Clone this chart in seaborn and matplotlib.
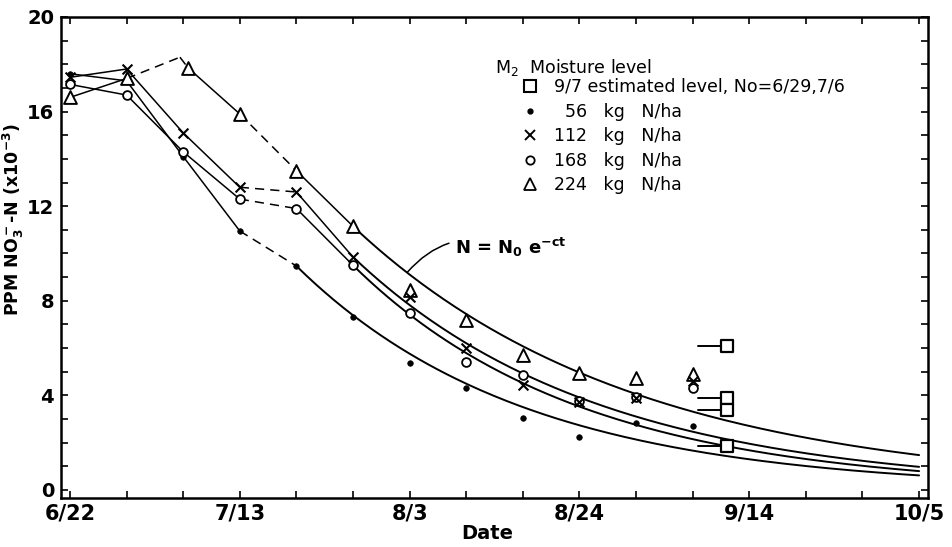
import numpy as np
import pandas as pd
import matplotlib
matplotlib.use("Agg")
import matplotlib.pyplot as plt
from matplotlib.lines import Line2D
import seaborn as sns

# ---------------- data (day 0 = 6/22) ----------------
tick_days = [0, 21, 42, 63, 84, 105]
tick_labels = ["6/22", "7/13", "8/3", "8/24", "9/14", "10/5"]

# connected early segments
days_56 = [0, 7, 14, 21, 28]
n_56 = [17.6, 17.3, 14.1, 10.95, 9.47]
style_56 = ["-", "-", "-", "--"]

days_112 = [0, 7, 14, 21, 28, 35]
n_112 = [17.45, 17.8, 15.1, 12.8, 12.6, 9.85]
style_112 = ["-", "-", "-", "--", "-"]

days_168 = [0, 7, 14, 21, 28, 35]
n_168 = [17.15, 16.7, 14.3, 12.3, 11.9, 9.5]
style_168 = ["-", "-", "-", "--", "-"]

path_days_224 = [0, 7, 13.6, 14.6, 21, 28, 35]
path_n_224 = [16.6, 17.4, 18.3, 17.85, 15.9, 13.5, 11.15]
style_224 = ["-", "--", "--", "-", "--", "-"]
mark_days_224 = [0, 7, 14.6, 21, 28, 35]
mark_n_224 = [16.6, 17.4, 17.85, 15.9, 13.5, 11.15]

# later (unconnected) observations
late_days_56 = [35, 42, 49, 56, 63, 70, 77]
late_56 = [7.32, 5.37, 4.31, 3.04, 2.24, 2.83, 2.71]
late_days = [42, 49, 56, 63, 70, 77]
late_112 = [8.15, 6.0, 4.45, 3.7, 3.9, 4.6]
late_168 = [7.5, 5.4, 4.85, 3.75, 3.95, 4.3]
late_224 = [8.45, 7.2, 5.7, 4.95, 4.73, 4.9]

# 9/7 estimated levels
est_day = 81.2
est_line_start = 77.7
est_vals = [6.1, 3.9, 3.4, 1.85]

# fitted curves N = N0 e^{-c t}
curve_t0 = [28, 35, 35, 35]
curve_n0 = [9.47, 9.85, 9.5, 11.15]
curve_c = [0.0355, 0.033, 0.0354, 0.0289]
curve_tend = 105

# ---------------- style ----------------
sns.set_theme(style="ticks")
plt.rcParams["font.family"] = ["DejaVu Sans"]
plt.rcParams["mathtext.default"] = "regular"
for k in ["text.color", "axes.labelcolor", "xtick.color", "ytick.color", "axes.edgecolor"]:
    plt.rcParams[k] = "black"

fig, ax = plt.subplots(figsize=(9.52, 5.47), dpi=100)
fig.subplots_adjust(left=61/952, right=928/952, bottom=1-498/547, top=1-17/547)

LW = 1.1
DASH = (6, 4)

def draw_segments(days, vals, styles):
    for i, st in enumerate(styles):
        seg = pd.DataFrame({"d": days[i:i+2], "n": vals[i:i+2]})
        kw = dict(dashes=DASH) if st == "--" else {}
        sns.lineplot(data=seg, x="d", y="n", ax=ax, color="black", lw=LW,
                     sort=False, estimator=None, zorder=2, **kw)

draw_segments(days_56, n_56, style_56)
draw_segments(days_112, n_112, style_112)
draw_segments(days_168, n_168, style_168)
draw_segments(path_days_224, path_n_224, style_224)

# fitted curves
for t0, n0, c in zip(curve_t0, curve_n0, curve_c):
    t = np.linspace(t0, curve_tend, 200)
    cdf = pd.DataFrame({"d": t, "n": n0 * np.exp(-c * (t - t0))})
    sns.lineplot(data=cdf, x="d", y="n", ax=ax, color="black", lw=1.4,
                 sort=False, estimator=None, zorder=2)

# estimated level ticks
for v in est_vals:
    sns.lineplot(x=[est_line_start, est_day], y=[v, v], ax=ax, color="black",
                 lw=1.4, estimator=None, zorder=2)

# markers
def pts(d, v):
    return pd.DataFrame({"d": d, "n": v})

sns.scatterplot(data=pts(days_56 + late_days_56, n_56 + late_56), x="d", y="n", ax=ax,
                marker="o", s=16, color="black", edgecolor="black", linewidth=0.5, zorder=4)
sns.scatterplot(data=pts(days_168 + late_days, n_168 + late_168), x="d", y="n", ax=ax,
                marker="o", s=40, facecolor="white", edgecolor="black", linewidth=1.3, zorder=4)
sns.scatterplot(data=pts(days_112 + late_days, n_112 + late_112), x="d", y="n", ax=ax,
                marker="x", s=50, color="black", linewidth=1.5, zorder=5)
sns.scatterplot(data=pts(mark_days_224 + late_days, mark_n_224 + late_224), x="d", y="n", ax=ax,
                marker="^", s=85, facecolor="white", edgecolor="black", linewidth=1.4, zorder=4)
sns.scatterplot(data=pts([est_day] * len(est_vals), est_vals), x="d", y="n", ax=ax,
                marker="s", s=70, facecolor="white", edgecolor="black", linewidth=1.6, zorder=6)

# annotation of the model
ax.annotate("N = N$_0$ e$^{-ct}$", xy=(41.7, 9.2), xytext=(47.6, 10.27),
            ha="left", va="center", fontsize=13, fontweight="bold",
            arrowprops=dict(arrowstyle="-", lw=1.1, color="black",
                            connectionstyle="arc3,rad=0.35", shrinkA=2, shrinkB=0))

# axes
ax.set_xlim(-1.11, 106.1)
ax.set_ylim(-0.34, 20.0)
ax.set_xticks(tick_days)
ax.set_xticklabels(tick_labels)
ax.set_xticks(np.arange(0, 106, 7), minor=True)
ax.set_yticks(np.arange(0, 21, 4))
ax.set_yticks(np.arange(0, 21, 1), minor=True)
ax.tick_params(which="both", direction="in", top=True, right=True,
               length=5, width=1.2, color="black")
ax.tick_params(axis="y", which="major", labelsize=14, pad=5)
ax.tick_params(axis="x", which="major", labelsize=15, pad=4)
for lab in ax.get_xticklabels() + ax.get_yticklabels():
    lab.set_fontweight("bold")
for sp in ax.spines.values():
    sp.set_linewidth(1.8)
    sp.set_color("black")

ax.set_xlabel("Date", fontsize=14, fontweight="bold")
ax.xaxis.set_label_coords((487-61)/867, (498-524)/481)
ax.set_ylabel("PPM NO$_3^-$-N (x10$^{-3}$)", fontsize=12.5, fontweight="bold")
ax.yaxis.set_label_coords((26-61)/867, (498-220)/481)

# legend
ax.text((495-61)/867, (498-68)/481, "M$_2$  Moisture level", transform=ax.transAxes,
        fontsize=12.5, ha="left", va="center")
handles = [
    Line2D([], [], ls="none", marker="s", ms=8, mfc="white", mec="black", mew=1.5),
    Line2D([], [], ls="none", marker="o", ms=3.5, mfc="black", mec="black"),
    Line2D([], [], ls="none", marker="x", ms=7, mec="black", mew=1.4),
    Line2D([], [], ls="none", marker="o", ms=6, mfc="white", mec="black", mew=1.3),
    Line2D([], [], ls="none", marker="^", ms=8, mfc="white", mec="black", mew=1.3),
]
labels = ["9/7 estimated level, No=6/29,7/6", "  56   kg   N/ha", "112   kg   N/ha",
          "168   kg   N/ha", "224   kg   N/ha"]
ax.legend(handles, labels, loc="upper left", bbox_to_anchor=((521-61)/867, (498-78)/481),
          frameon=False, borderaxespad=0, borderpad=0, handlelength=1.0,
          handletextpad=0.9, labelspacing=0.38, fontsize=12.5)

fig.savefig("out.png", dpi=100)
